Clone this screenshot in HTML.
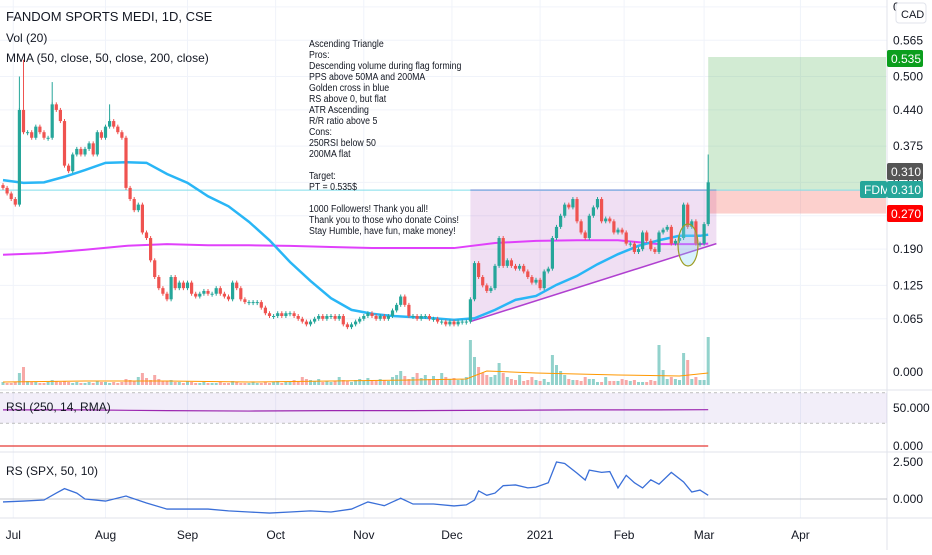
<!DOCTYPE html>
<html><head><meta charset="utf-8"><style>
body{margin:0;background:#fff;width:932px;height:550px;overflow:hidden;font-family:"Liberation Sans",sans-serif}
svg text{font-family:"Liberation Sans",sans-serif}
</style></head><body>
<svg id="c" width="932" height="550" xmlns="http://www.w3.org/2000/svg"></svg>
<script>
const closes=[.30,.29,.28,.27,.44,.40,.40,.39,.41,.40,
.39,.39,.45,.44,.42,.34,.33,.36,.37,.36,
.37,.38,.36,.40,.39,.41,.42,.41,.40,.39,
.30,.28,.26,.27,.22,.21,.17,.14,.12,.11,
.10,.14,.12,.13,.12,.13,.11,.105,.11,.115,
.11,.11,.12,.11,.105,.10,.13,.12,.10,.095,
.095,.095,.095,.085,.075,.07,.07,.075,.07,.075,
.075,.07,.065,.06,.055,.06,.065,.07,.065,.07,
.07,.065,.07,.055,.05,.055,.06,.065,.07,.075,
.07,.065,.07,.065,.07,.08,.09,.105,.09,.07,
.07,.065,.07,.07,.065,.065,.06,.06,.055,.06,
.055,.06,.06,.06,.10,.165,.14,.125,.115,.12,
.16,.21,.16,.17,.16,.155,.16,.15,.14,.13,
.135,.12,.15,.155,.21,.23,.25,.27,.265,.28,
.24,.22,.21,.25,.265,.28,.24,.245,.24,.22,
.225,.22,.20,.20,.185,.19,.22,.205,.19,.185,
.22,.225,.23,.20,.205,.21,.27,.23,.24,.20,
.20,.235,.31];
const volumes=[3,2,2,3,12,18,4,3,3,2,
2,3,5,4,3,4,3,2,3,2,
2,3,2,4,3,3,2,3,2,3,
6,5,4,8,12,7,5,10,6,4,
4,5,3,3,2,4,3,2,2,3,
2,2,2,3,2,2,4,3,2,2,
2,3,2,2,3,2,3,4,2,3,
3,5,4,8,6,5,4,6,3,4,
3,4,8,5,4,3,5,6,4,7,
5,4,6,5,4,8,10,14,9,6,
8,12,7,10,6,9,5,12,8,6,
7,5,6,8,45,28,18,12,10,8,
10,22,12,8,6,5,10,4,5,8,
5,4,6,3,30,20,14,10,6,5,
5,4,8,6,6,3,3,8,4,4,
4,6,5,4,5,3,3,3,5,4,
40,15,6,8,6,5,32,25,6,8,
5,5,48];
const wickIdx=[4,5,12,26,30,172];
const wickHigh=[0.50,0.53,0.49,0.45,0.38,0.36];
const ma50Idx=[0,5,10,15,20,25,30,35,40,45,50,55,60,65,70,75,80,85,90,95,100,105,110,115,120,125,130,135,140,145,150,155,160,165,170,172];
const ma50Val=[.314,.309,.31,.32,.332,.345,.346,.345,.325,.309,.285,.267,.239,.206,.167,.133,.102,.081,.074,.07,.068,.066,.063,.066,.081,.099,.106,.126,.142,.163,.181,.196,.206,.214,.214,.216];
const ma200Idx=[0,10,20,30,40,50,60,70,80,90,100,110,120,130,140,150,160,170,172];
const ma200Val=[.18,.183,.189,.196,.199,.197,.197,.196,.194,.192,.192,.192,.201,.205,.206,.206,.199,.199,.2];
const volMaIdx=[0,20,40,60,80,100,113,118,130,150,165,172];
const volMaVal=[3,4,4,3,4,5,6,14,12,10,9,12];
const rsiIdx=[0,20,40,60,80,100,120,140,160,172];
const rsiVal=[47.5,47.5,46.5,46,46.5,46.5,47,47.5,47.5,47.8];
const rsIdx=[0,5,10,13,15,18,20,25,30,35,40,45,50,55,60,65,70,75,80,85,89,93,95,97,100,105,110,113,115,116,118,120,122,125,128,130,133,135,137,140,142,143,146,148,150,152,154,156,158,160,163,166,168,170,172];
const rsVal=[-0.2,-0.14,-0.07,0.4,0.7,0.4,0,-0.14,0.2,-0.27,-0.68,-0.68,-0.68,-0.8,-0.88,-0.95,-0.88,-0.8,-0.88,-0.68,-0.2,-0.45,-0.2,0.05,-0.34,-0.34,-0.47,-0.4,-0.07,0.55,0.25,0.4,0.9,0.95,0.75,0.8,1.1,2.5,2.4,1.75,1.28,1.95,1.8,1.85,0.75,1.6,1.1,0.75,1.3,1.0,1.8,1.15,0.47,0.6,0.25];
const priceTicks=["0.625","0.565","0.500","0.440","0.375","0.310","0.250","0.190","0.125","0.065"];
const monthLabels=["Jul","Aug","Sep","Oct","Nov","Dec","2021","Feb","Mar","Apr"];
const monthIdx=[2.5,25,45,66.5,88,109.5,131,151.5,171,194.5];

const NS="http://www.w3.org/2000/svg";
const svg=document.getElementById('c');
function el(t,a,p){const e=document.createElementNS(NS,t);for(const k in a)e.setAttribute(k,a[k]);(p||svg).appendChild(e);return e;}
const X=i=>3+i*4.1;
const Y=p=>355-p*557;
const VY=v=>385-v*1.0;
const RSIY=v=>446-v*0.76;
const RSY=v=>499-v*14.8;

priceTicks.forEach(t=>{const g=el('line',{x1:0,x2:887,y1:Y(+t),y2:Y(+t),stroke:'#f0f3fa'});
});
monthIdx.forEach(m=>{const g=el('line',{x1:X(m),x2:X(m),y1:0,y2:518,stroke:'#f0f3fa'});
});

const tri=el('polygon',{points:`${X(114)},${Y(.296)} ${X(174)},${Y(.296)} ${X(174)},${Y(.2)} ${X(114)},${Y(.06)}`,fill:'rgba(156,39,176,0.15)'});

el('line',{x1:X(114),x2:X(174),y1:Y(.296),y2:Y(.296),stroke:'#9c4fd0','stroke-width':1.5});
el('line',{x1:X(114),x2:X(174),y1:Y(.06),y2:Y(.2),stroke:'#b040d0','stroke-width':1.5});

const tg=el('rect',{x:X(172),y:Y(.535),width:886-X(172),height:Y(.296)-Y(.535),fill:'rgba(76,175,80,0.25)'});

const st=el('rect',{x:X(172),y:Y(.296),width:886-X(172),height:Y(.254)-Y(.296),fill:'rgba(244,67,54,0.25)'});

const pl=el('line',{x1:0,x2:887,y1:Y(.296),y2:Y(.296),stroke:'#80deea','stroke-width':1});


for(let i=0;i<volumes.length&&i<closes.length;i++){const o=i?closes[i-1]:closes[i];const up=closes[i]>=o;
const b=el('rect',{x:X(i)-1.5,y:VY(volumes[i]),width:3,height:volumes[i],fill:up?'rgba(38,166,154,0.5)':'rgba(239,83,80,0.5)'});
}
const vm=el('polyline',{points:volMaIdx.map((k,j)=>X(k)+','+VY(volMaVal[j])).join(' '),fill:'none',stroke:'#ff9800','stroke-width':1});


const m200=el('polyline',{points:ma200Idx.map((k,j)=>X(k)+','+Y(ma200Val[j])).join(' '),fill:'none',stroke:'#e040fb','stroke-width':2});

const m50=el('polyline',{points:ma50Idx.map((k,j)=>X(k)+','+Y(ma50Val[j])).join(' '),fill:'none',stroke:'#29b6f6','stroke-width':2.5});


wickIdx.forEach((k,j)=>{const w=el('line',{x1:X(k),x2:X(k),y1:Y(wickHigh[j]),y2:Y(Math.max(closes[k],closes[k-1]||closes[k])),stroke:closes[k]>=(closes[k-1]||0)?'#26a69a':'#ef5350'});
});
for(let i=0;i<closes.length;i++){const o=i?closes[i-1]:closes[i]+0.005;const c=closes[i];const up=c>=o;
const t=Y(Math.max(o,c)),h=Math.max(1,Math.abs(Y(o)-Y(c)));
const wk=el('line',{x1:X(i),x2:X(i),y1:t-2,y2:t+h+2,stroke:up?'#26a69a':'#ef5350'});

const r=el('rect',{x:X(i)-1.6,y:t,width:3.2,height:h,fill:up?'#26a69a':'#ef5350'});
}

const ge=el('ellipse',{cx:688,cy:245,rx:10,ry:21,fill:'rgba(129,212,250,0.3)',stroke:'#9e9d24','stroke-width':1.2});


[390,452,518].forEach(y=>{const s=el('line',{x1:0,x2:932,y1:y,y2:y,stroke:'#e0e3eb'});
});
const ax=el('line',{x1:887,x2:887,y1:0,y2:550,stroke:'#e0e3eb'});


const band=el('rect',{x:0,y:RSIY(70),width:887,height:RSIY(30)-RSIY(70),fill:'rgba(126,87,194,0.1)'});

[70,30].forEach(v=>el('line',{x1:0,x2:887,y1:RSIY(v),y2:RSIY(v),stroke:'#999','stroke-dasharray':'3,3','stroke-width':.7}));
const rl=el('polyline',{points:rsiIdx.map((k,j)=>X(k)+','+RSIY(rsiVal[j])).join(' '),fill:'none',stroke:'#9c27b0','stroke-width':1.2});

const red=el('line',{x1:0,x2:X(172),y1:446,y2:446,stroke:'#e53935','stroke-width':1.2});


el('line',{x1:0,x2:887,y1:RSY(0),y2:RSY(0),stroke:'#b2b5be','stroke-width':.8});
const rs=el('polyline',{points:rsIdx.map((k,j)=>X(k)+','+RSY(rsVal[j])).join(' '),fill:'none',stroke:'#3a6fd8','stroke-width':1.3});


function txt(s,x,y,a,name,parent){const t=el('text',Object.assign({x:x,y:y,'font-size':12,fill:'#131722'},a||{}),parent);t.textContent=s;
return t;}
priceTicks.forEach(t=>txt(t,893,Y(+t)+4,{},'price-tick-label'));
txt('0.000',893,376,{},'volume-tick-label');
txt('50.000',893,412,{},'rsi-tick-label');
txt('0.000',893,450,{},'rsi-tick-label');
txt('2.500',893,466,{},'rs-tick-label');
txt('0.000',893,503,{},'rs-tick-label');
monthLabels.forEach((m,j)=>txt(m,X(monthIdx[j]),539,{'text-anchor':'middle'},'month-label'));

const cad=el('rect',{x:896,y:3,width:30,height:20,rx:3,fill:'#fff',stroke:'#e0e3eb'});

txt('CAD',901,18,{'font-size':11},'currency-label');

function badge(x,y,w,fill,s,name){const r=el('rect',{x:x,y:y,width:w,height:17,rx:2,fill:fill});

txt(s,x+4,y+13,{fill:'#fff'},name+'-text');}
badge(887,50,36,'#0b9e1d','0.535','target-price-badge');
badge(887,163,36,'#555','0.310','close-price-badge');
badge(860,181,27,'#26a69a','FDM','symbol-badge');
badge(887,181,36,'#26a69a','0.310','last-price-badge');
badge(887,205,36,'#f00','0.270','stop-price-badge');

txt('FANDOM SPORTS MEDI, 1D, CSE',6,21,{'font-size':13},'chart-title');
txt('Vol (20)',6,42,{'font-size':12},'volume-legend');
txt('MMA (50, close, 50, close, 200, close)',6,62,{'font-size':12},'ma-legend');
txt('RSI (250, 14, RMA)',6,411,{'font-size':12},'rsi-legend');
txt('RS (SPX, 50, 10)',6,475,{'font-size':12},'rs-legend');

const ng=el('g',{transform:'translate(309,0) scale(0.88,1) translate(-309,0)'});

const notes=['Ascending Triangle','Pros:','Descending volume during flag forming','PPS above 50MA and 200MA','Golden cross in blue','RS above 0, but flat','ATR Ascending','R/R ratio above 5','Cons:','250RSI below 50','200MA flat','','Target:','PT = 0.535$','','1000 Followers! Thank you all!','Thank you to those who donate Coins!','Stay Humble, have fun, make money!'];
notes.forEach((s,j)=>{if(s)txt(s,309,47+j*11,{'font-size':10},'annotation-line',ng);});
</script>
</body></html>
